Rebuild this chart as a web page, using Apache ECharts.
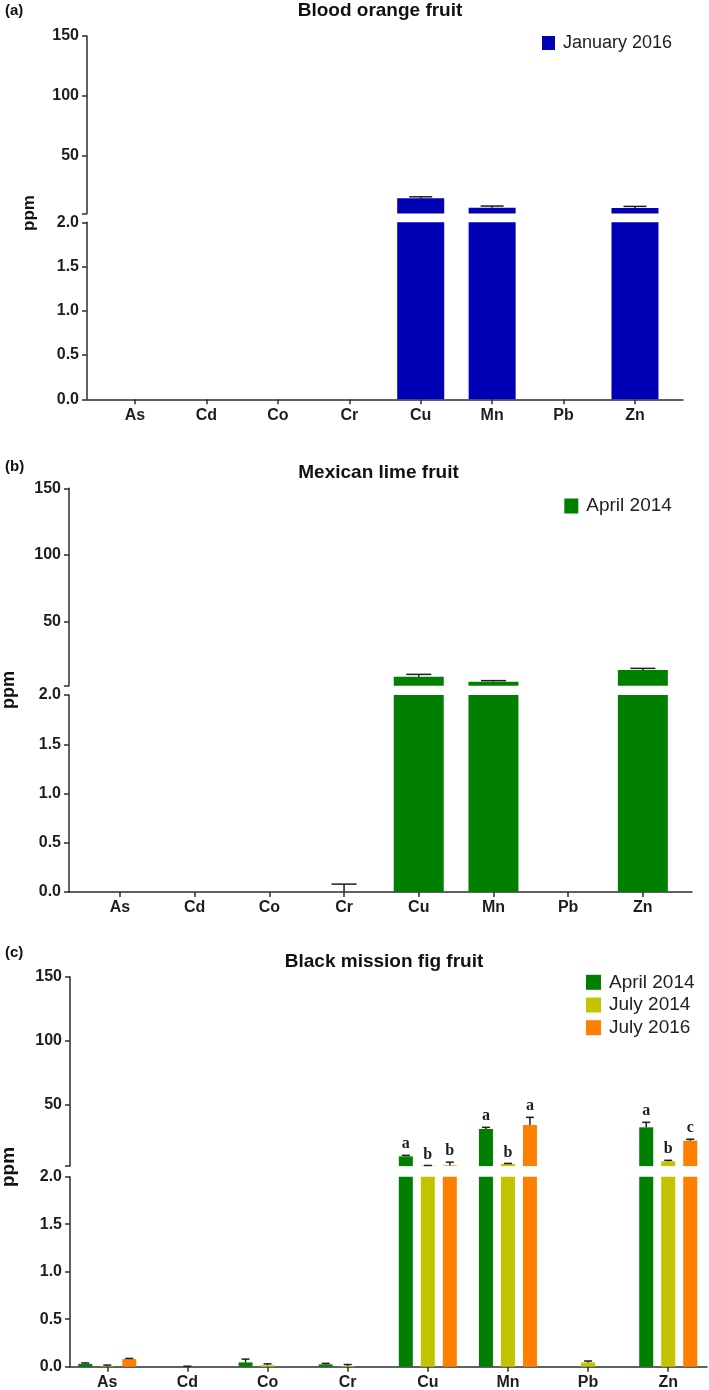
<!DOCTYPE html>
<html><head><meta charset="utf-8">
<script src="https://cdn.jsdelivr.net/npm/echarts@6/dist/echarts.min.js"></script>
<style>html,body{margin:0;padding:0;background:#fff}#c{width:709px;height:1390px}</style>
</head><body><div id="c"></div><script>
// ---------------- data ----------------
const categories = ['As','Cd','Co','Cr','Cu','Mn','Pb','Zn'];
const upperTickValues = [2, 50, 100, 150];
const upperLabelValues = [50, 100, 150];
const breakValue = 2;
const upperMax = 150;
const lowerInterval = 0.5;

// (a) Blood orange fruit
const bloodOrangeJan2016    = [0, 0, 0, 0, 14.7, 6.9, 0, 6.7];
const bloodOrangeJan2016Err = [0, 0, 0, 0, 1.3, 1.4, 0, 1.3];
// (b) Mexican lime fruit
const limeApr2014    = [0, 0, 0, 0, 8.8, 5.0, 0, 13.8];
const limeApr2014Err = [0, 0, 0, 0.08, 1.7, 0.8, 0, 1.2];
// (c) Black mission fig fruit
const figApr2014    = [0.03, 0, 0.045, 0.025, 9.6, 31, 0, 32.3];
const figApr2014Err = [0.01, 0, 0.035, 0.01, 0.8, 1.3, 0, 3.9];
const figJul2014    = [0.005, 0.001, 0.015, 0.008, 2.3, 3.7, 0.045, 5.7];
const figJul2014Err = [0.012, 0.004, 0.015, 0.015, 0.2, 0.4, 0.015, 0.8];
const figJul2016    = [0.08, 0, 0, 0, 2.5, 34.1, 0, 21.9];
const figJul2016Err = [0.007, 0, 0, 0, 2.6, 6, 0, 1.1];
const figApr2014Letters = ['', '', '', '', 'a', 'a', '', 'a'];
const figJul2014Letters = ['', '', '', '', 'b', 'b', '', 'b'];
const figJul2016Letters = ['', '', '', '', 'b', 'a', '', 'c'];

// ---------------- layout ----------------
const FONT = 'Liberation Sans, Arial, sans-serif';
const INK = '#1e1e1e';
const AXIS = '#2e2e2e';

const panels = [
  { tag:'(a)', tagX:5, tagY:11, title:'Blood orange fruit', titleX:380, titleY:11, titleSize:19,
    ppmX:29, ppmY:213, ppmSize:17,
    axisX:87, axisEnd:683, catLeft:99.3, catWidth:571.4,
    upperTop:36, upperBottom:213.6, lowerTop:222.3, lowerBottom:399.3,
    barWidth:47, barGap:0, capWidth:23,
    legendLeft:537, legendTop:28, legendSize:18, iconW:13, iconH:14, legendStep:22.7,
    series:[{name:'January 2016', color:'#0000b4', values:bloodOrangeJan2016, errors:bloodOrangeJan2016Err, letters:null}] },
  { tag:'(b)', tagX:5, tagY:467, title:'Mexican lime fruit', titleX:378.5, titleY:473, titleSize:19,
    ppmX:9, ppmY:690, ppmSize:18,
    axisX:69, axisEnd:692, catLeft:82.6, catWidth:597.6,
    upperTop:488.3, upperBottom:685.7, lowerTop:695, lowerBottom:892,
    barWidth:50, barGap:0, capWidth:25,
    legendLeft:559.3, legendTop:491, legendSize:19, iconW:14, iconH:15, legendStep:22.7,
    series:[{name:'April 2014', color:'#007f00', values:limeApr2014, errors:limeApr2014Err, letters:null}] },
  { tag:'(c)', tagX:5, tagY:953, title:'Black mission fig fruit', titleX:384, titleY:962, titleSize:19,
    ppmX:9, ppmY:1167, ppmSize:19,
    axisX:70, axisEnd:707, catLeft:67.2, catWidth:641.1,
    upperTop:976.7, upperBottom:1166.1, lowerTop:1176.7, lowerBottom:1366.7,
    barWidth:14, barGap:8, capWidth:8,
    legendLeft:581, legendTop:967.3, legendSize:19, iconW:15, iconH:15, legendStep:22.7,
    series:[
      {name:'April 2014', color:'#007f00', values:figApr2014, errors:figApr2014Err, letters:figApr2014Letters},
      {name:'July 2014',  color:'#c3c300', values:figJul2014, errors:figJul2014Err, letters:figJul2014Letters},
      {name:'July 2016',  color:'#ff7f00', values:figJul2016, errors:figJul2016Err, letters:figJul2016Letters}
    ] }
];

const grids = [], xAxes = [], yAxes = [], series = [], legends = [], graphics = [];

function errorRenderer(panel, k, s) {
  const n = panel.series.length;
  const offset = (k - (n - 1) / 2) * (panel.barWidth + panel.barGap);
  const cap = panel.capWidth;
  return function (params, api) {
    const i = api.value(0), v = api.value(1);
    const e = s.errors[i] || 0;
    const base = api.coord([i, v]);
    const top = api.coord([i, v + e]);
    const x = base[0] + offset;
    const children = [];
    if (e > 0) {
      children.push({type:'line', shape:{x1:x, y1:base[1], x2:x, y2:top[1]}, style:{stroke:INK, lineWidth:1.5}});
      children.push({type:'line', shape:{x1:x - cap/2, y1:top[1], x2:x + cap/2, y2:top[1]}, style:{stroke:INK, lineWidth:1.5}});
    }
    if (s.letters && s.letters[i]) {
      children.push({type:'text', style:{text:s.letters[i], x:x, y:top[1] - 3, align:'center', verticalAlign:'bottom',
        fontSize:16, fontWeight:'bold', fontFamily:'Liberation Serif, Times New Roman, serif', fill:INK}});
    }
    return {type:'group', children};
  };
}

panels.forEach((p, pi) => {
  const g0 = pi * 4;
  const segs = [
    {top:p.upperTop, bottom:p.upperBottom, min:breakValue, max:upperMax, upper:true},
    {top:p.lowerTop, bottom:p.lowerBottom, min:0, max:breakValue, upper:false}
  ];
  segs.forEach((seg, si) => {
    const gd = g0 + si * 2, gc = gd + 1;
    grids.push({left:p.axisX, top:seg.top, width:p.axisEnd - p.axisX, height:seg.bottom - seg.top, outerBoundsMode:'none'});
    grids.push({left:p.catLeft, top:seg.top, width:p.catWidth, height:seg.bottom - seg.top, outerBoundsMode:'none'});
    xAxes.push({gridIndex:gd, type:'value', min:0, max:1, show:!seg.upper,
      axisLine:{show:true, lineStyle:{color:AXIS, width:1.5}}, axisTick:{show:false}, axisLabel:{show:false}, splitLine:{show:false}});
    xAxes.push({gridIndex:gc, type:'category', data:categories, show:!seg.upper,
      axisLine:{show:false}, axisTick:{show:true, alignWithLabel:true, length:5, lineStyle:{color:AXIS, width:1.5}},
      axisLabel:{show:true, margin:8, color:INK, fontSize:16, fontWeight:'bold', fontFamily:FONT}});
    const yd = {gridIndex:gd, type:'value', min:seg.min, max:seg.max,
      axisLine:{show:true, lineStyle:{color:AXIS, width:1.5}},
      axisTick:{show:true, length:5, lineStyle:{color:AXIS, width:1.5}},
      axisLabel:{show:true, margin:8, color:INK, fontSize:16, fontWeight:'bold', fontFamily:FONT},
      splitLine:{show:false}};
    if (seg.upper) {
      yd.axisTick.customValues = upperTickValues;
      yd.axisLabel.customValues = upperLabelValues;
    } else {
      yd.interval = lowerInterval;
      yd.axisLabel.formatter = v => v.toFixed(1);
    }
    yAxes.push(yd);
    yAxes.push({gridIndex:gc, type:'value', min:seg.min, max:seg.max, show:false, splitLine:{show:false}});

    p.series.forEach((s, k) => {
      series.push({type:'bar', name:s.name, xAxisIndex:gc, yAxisIndex:gc, clip:true,
        barWidth:p.barWidth, barGap:(p.barGap / p.barWidth * 100) + '%',
        itemStyle:{color:s.color}, silent:true, z:2,
        data: s.values.map(v => seg.upper ? (v > breakValue ? v : '-') : v)});
      const pts = [];
      s.values.forEach((v, i) => {
        const hasMark = (s.errors[i] > 0) || (s.letters && s.letters[i]);
        if (!hasMark) return;
        if (seg.upper ? v > breakValue : v <= breakValue) pts.push([i, v]);
      });
      series.push({type:'custom', name:s.name + ' err', xAxisIndex:gc, yAxisIndex:gc, z:5, silent:true,
        renderItem: errorRenderer(p, k, s), encode:{x:0, y:1}, data:pts});
    });
  });

  legends.push({data:p.series.map(s => s.name), orient:'vertical', left:p.legendLeft, top:p.legendTop,
    itemWidth:p.iconW, itemHeight:p.iconH, itemGap:p.legendStep - 20, icon:'rect', selectedMode:false,
    textStyle:{fontSize:p.legendSize, fontFamily:FONT, color:'#222', lineHeight:20, padding:[0,0,0,3]}});

  graphics.push({type:'text', x:p.tagX, y:p.tagY, style:{text:p.tag, align:'left', verticalAlign:'middle',
    fontSize:15, fontWeight:'bold', fontFamily:FONT, fill:'#111'}});
  graphics.push({type:'text', x:p.titleX, y:p.titleY, style:{text:p.title, align:'center', verticalAlign:'middle',
    fontSize:p.titleSize, fontWeight:'bold', fontFamily:FONT, fill:'#111'}});
  graphics.push({type:'text', x:p.ppmX, y:p.ppmY, rotation:Math.PI/2, style:{text:'ppm', align:'center', verticalAlign:'middle',
    fontSize:p.ppmSize, fontWeight:'bold', fontFamily:FONT, fill:'#111'}});
});

const chart = echarts.init(document.getElementById('c'), null, {renderer:'canvas'});
chart.setOption({
  animation:false,
  backgroundColor:'#fff',
  grid:grids, xAxis:xAxes, yAxis:yAxes, series:series, legend:legends, graphic:graphics
});
</script></body></html>
